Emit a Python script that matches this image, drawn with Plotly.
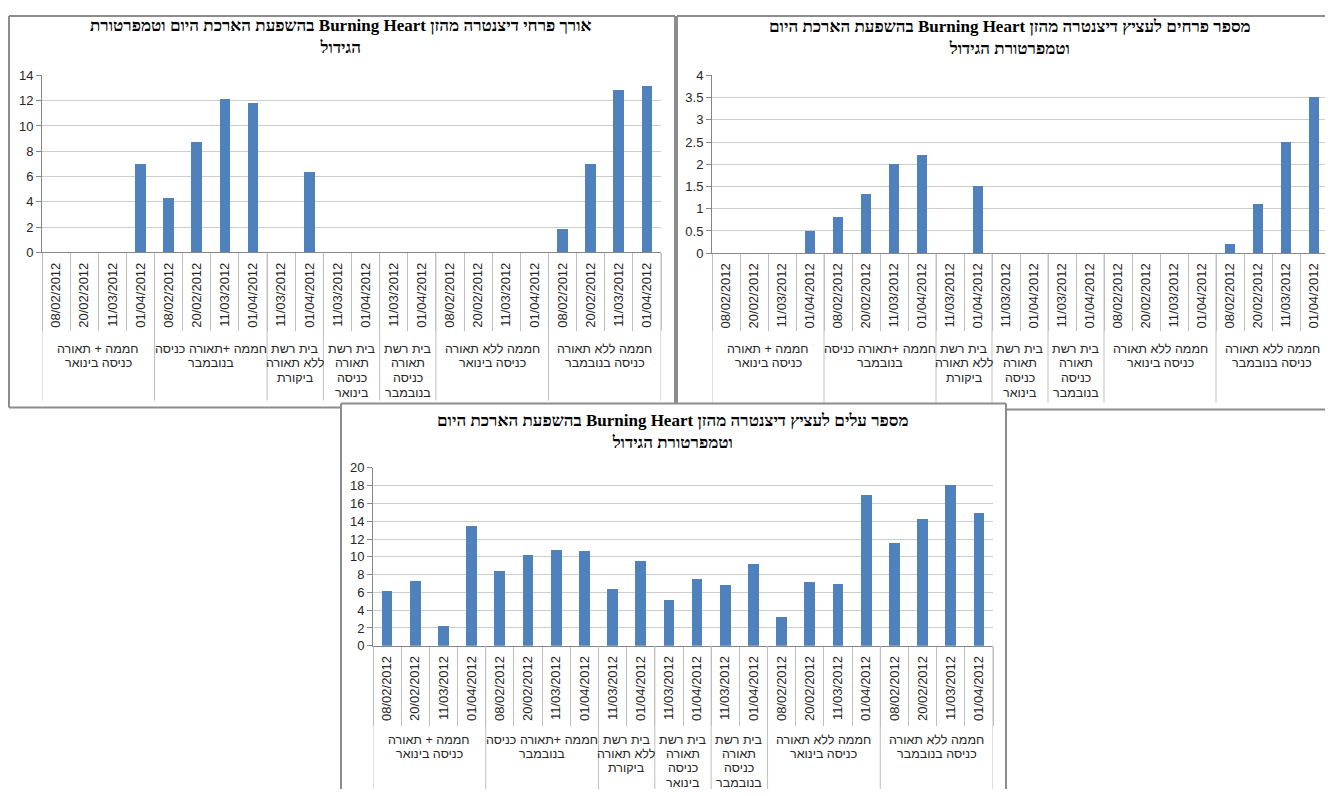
import plotly.graph_objects as go

W, H = 1333, 796
# The page puts the figure at (8, 15) and the captured page (about 812 px tall)
# is scaled to 796 px in height; positions below are in reference pixels.
OFF_X, OFF_Y = 8, 15
PAGE_H = 812
S = H / PAGE_H
FW, FH = W - OFF_X, PAGE_H - OFF_Y - 8

# ---------------- data ----------------
date_labels = ["08/02/2012", "20/02/2012", "11/03/2012", "01/04/2012",
               "08/02/2012", "20/02/2012", "11/03/2012", "01/04/2012",
               "11/03/2012", "01/04/2012",
               "11/03/2012", "01/04/2012",
               "11/03/2012", "01/04/2012",
               "08/02/2012", "20/02/2012", "11/03/2012", "01/04/2012",
               "08/02/2012", "20/02/2012", "11/03/2012", "01/04/2012"]

group_labels = ["חממה + תאורה\nכניסה בינואר",
                "חממה +תאורה כניסה\nבנובמבר",
                "בית רשת\nללא תאורה\nביקורת",
                "בית רשת\nתאורה\nכניסה\nבינואר",
                "בית רשת\nתאורה\nכניסה\nבנובמבר",
                "חממה ללא תאורה\nכניסה בינואר",
                "חממה ללא תאורה\nכניסה בנובמבר"]
group_sizes = [4, 4, 2, 2, 2, 4, 4]

flower_length = [0, 0, 0, 7.0,
                 4.3, 8.7, 12.1, 11.75,
                 0, 6.3,
                 0, 0,
                 0, 0,
                 0, 0, 0, 0,
                 1.8, 7.0, 12.85, 13.1]

flowers_per_pot = [0, 0, 0, 0.5,
                   0.8, 1.33, 2.0, 2.2,
                   0, 1.5,
                   0, 0,
                   0, 0,
                   0, 0, 0, 0,
                   0.2, 1.1, 2.5, 3.5]

leaves_per_pot = [6.2, 7.3, 2.2, 13.5,
                  8.4, 10.2, 10.8, 10.65,
                  6.4, 9.55,
                  5.1, 7.5,
                  6.8, 9.2,
                  3.2, 7.2, 7.0, 17.0,
                  11.6, 14.3, 18.1, 14.9]

titles = ["אורך פרחי דיצנטרה מהזן Burning Heart בהשפעת הארכת היום וטמפרטורת\nהגידול",
          "מספר פרחים לעציץ דיצנטרה מהזן Burning Heart בהשפעת הארכת היום\nוטמפרטורת הגידול",
          "מספר עלים לעציץ דיצנטרה מהזן Burning Heart בהשפעת הארכת היום\nוטמפרטורת הגידול"]

# ---------------- helpers ----------------
def fx(p):
    return (p - OFF_X) / FW


def fy(p):
    v = 1 - (p / S - OFF_Y) / FH
    return min(max(v, 0.0), 1.0)


def rtl(line):
    return "\u202B" + line + "\u202C"


BAR = "#4F81BD"
AXIS = "#868686"
GRID = "#CDCDCD"
DIV = "#BFBFBF"
BORDER = "#8C8C8C"
TXT = "#262626"
SANS = "Liberation Sans, Arial, sans-serif"
SERIF = "Liberation Serif, Times New Roman, serif"

charts = [
    dict(values=flower_length, title=titles[0], px0=42, px1=661, py0=252, py1=75,
         ymax=14, dtick=2, date_bot=328, grp_bot=400, grp_y=348, grp_step=14.8,
         tcx=341, tcy=36.5),
    dict(values=flowers_per_pot, title=titles[1], px0=712, px1=1328, py0=252.7, py1=75,
         ymax=4, dtick=0.5, date_bot=328, grp_bot=402, grp_y=348, grp_step=14.8,
         tcx=1010, tcy=37.5),
    dict(values=leaves_per_pot, title=titles[2], px0=373, px1=993, py0=645, py1=467.3,
         ymax=20, dtick=2, date_bot=723, grp_bot=796, grp_y=739, grp_step=14.3,
         tcx=673, tcy=430.5),
]

fig = go.Figure()
shapes = []
annotations = []
N = len(date_labels)
bounds = [0]
for s in group_sizes:
    bounds.append(bounds[-1] + s)

for i, ch in enumerate(charts):
    n = "" if i == 0 else str(i + 1)
    xref, yref = "x" + n, "y" + n
    fig.add_trace(go.Bar(x=list(range(N)), y=ch["values"], xaxis=xref, yaxis=yref,
                         marker=dict(color=BAR, line=dict(width=0)), width=0.38,
                         showlegend=False, hoverinfo="y"))
    fig.update_layout(**{
        "xaxis" + n: dict(domain=[fx(ch["px0"]), fx(ch["px1"])], anchor=yref,
                          range=[-0.5, N - 0.5], tickmode="array",
                          tickvals=list(range(N)), ticktext=date_labels,
                          tickangle=-90, ticks="outside", ticklen=4,
                          tickcolor="rgba(0,0,0,0)",
                          tickfont=dict(family=SANS, size=13, color=TXT),
                          showline=True, linecolor=AXIS, linewidth=1,
                          showgrid=False, zeroline=False, fixedrange=True,
                          minor=dict(tickmode="array",
                                     tickvals=[k - 0.5 for k in range(N + 1)],
                                     ticks="outside",
                                     ticklen=(ch["date_bot"] - ch["py0"]) / S,
                                     tickcolor=DIV, tickwidth=1, showgrid=False)),
        "yaxis" + n: dict(domain=[fy(ch["py0"]), fy(ch["py1"])], anchor=xref,
                          range=[0, ch["ymax"]], tick0=0, dtick=ch["dtick"],
                          showgrid=True, gridcolor=GRID, gridwidth=1,
                          showline=True, linecolor=AXIS, linewidth=1,
                          ticks="outside", ticklen=5, tickcolor=AXIS,
                          tickfont=dict(family=SANS, size=13, color=TXT),
                          zeroline=False, fixedrange=True),
    })
    # group dividers
    for b in bounds:
        shapes.append(dict(type="line", xref=xref, yref="paper",
                           x0=b - 0.5, x1=b - 0.5,
                           y0=fy(ch["py0"]), y1=fy(ch["grp_bot"]),
                           line=dict(color=DIV, width=1)))
    # group labels, one annotation per wrapped line
    for g, name in enumerate(group_labels):
        center = (bounds[g] + bounds[g + 1] - 1) / 2
        for j, line in enumerate(name.split("\n")):
            annotations.append(dict(x=center, xref=xref,
                                    y=fy(ch["grp_y"] + j * ch["grp_step"]), yref="paper",
                                    yanchor="middle", xanchor="center", showarrow=False,
                                    text=rtl(line),
                                    font=dict(family=SANS, size=12.5, color=TXT)))
    # title
    annotations.append(dict(x=fx(ch["tcx"]), xref="paper", y=fy(ch["tcy"]), yref="paper",
                            xanchor="center", yanchor="middle", showarrow=False,
                            text="<b>" + "<br>".join(rtl(t) for t in ch["title"].split("\n")) + "</b>",
                            align="center",
                            font=dict(family=SERIF, size=17, color="#000000")))

def seg(x0, y0, x1, y1):
    return dict(type="line", xref="paper", yref="paper",
                x0=fx(x0), y0=min(fy(y0), 1 - 1 / FH), x1=fx(x1), y1=min(fy(y1), 1 - 1 / FH),
                line=dict(color=BORDER, width=2))

shapes += [
    # chart 1
    seg(9, 10, 675, 10), seg(9, 10, 9, 407), seg(675, 10, 675, 403), seg(9, 407, 341, 407),
    # chart 2
    seg(677, 10, 1333, 10), seg(677, 10, 677, 403), seg(1006, 409, 1333, 409),
    # chart 3
    seg(341, 403, 1006, 403), seg(341, 403, 341, 796), seg(1006, 403, 1006, 796),
]

fig.update_layout(width=FW, height=FH, margin=dict(l=0, r=0, t=0, b=0),
                  paper_bgcolor="white", plot_bgcolor="white",
                  shapes=shapes, annotations=annotations, bargap=0)

fig.write_html("out.html")
